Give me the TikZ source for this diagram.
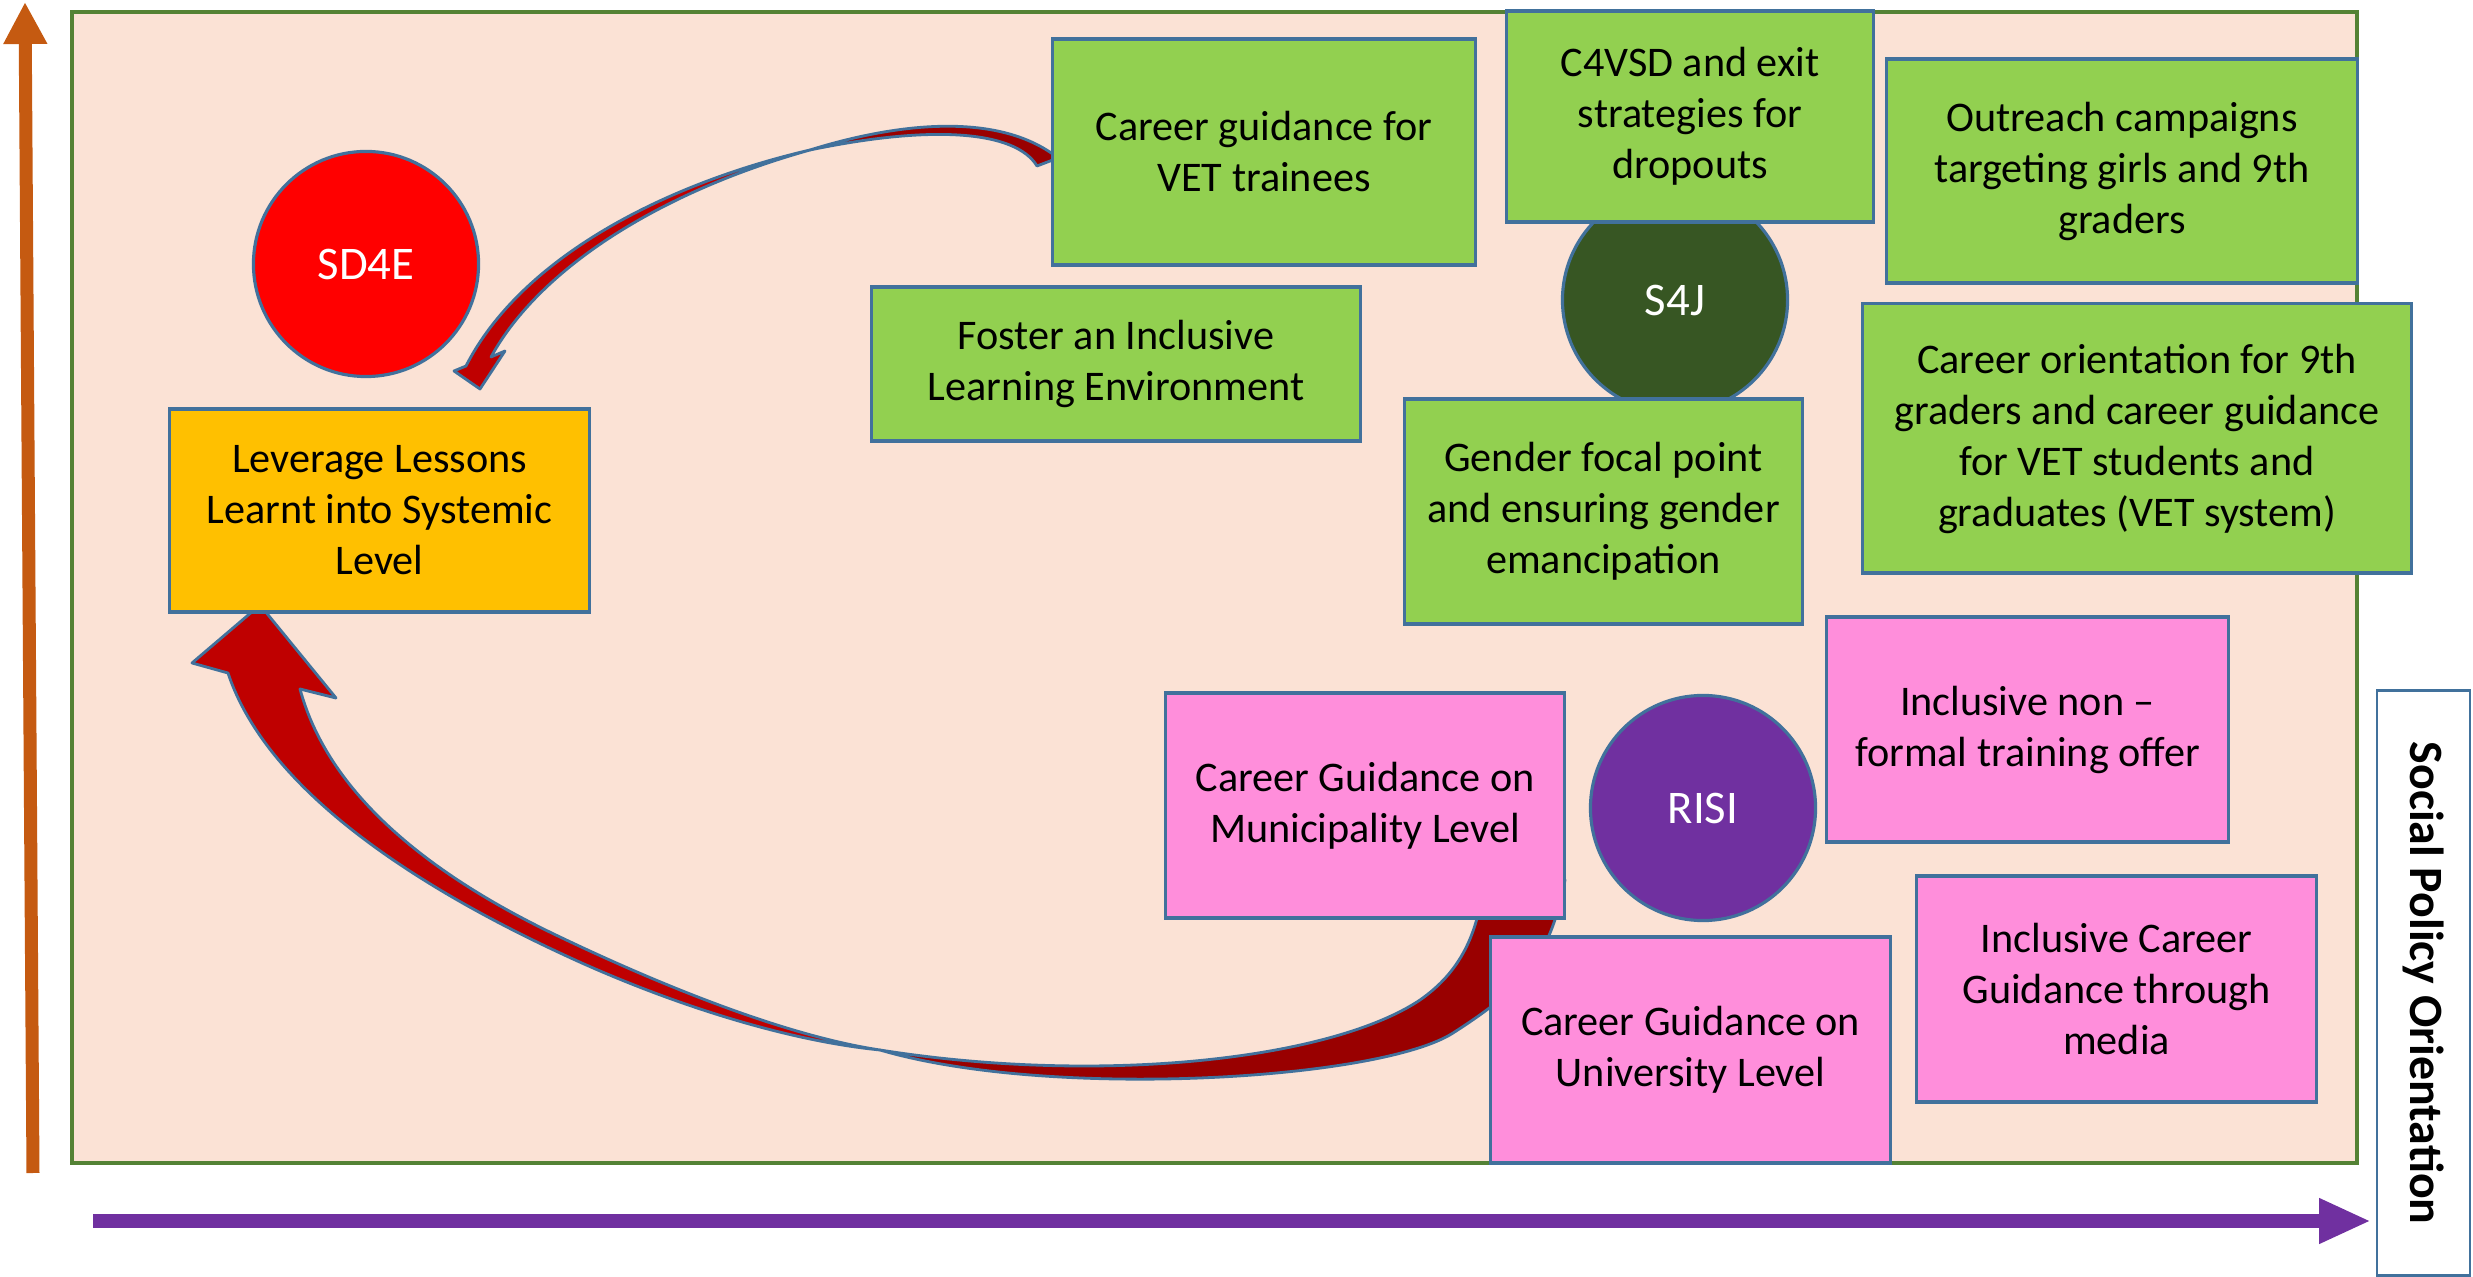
\documentclass[tikz,border=0pt]{standalone}
\usepackage{fontspec}
\setmainfont{Carlito}
\usetikzlibrary{arrows.meta}
\definecolor{panelfill}{HTML}{FBE2D5}
\definecolor{panelline}{HTML}{548235}
\definecolor{outline}{HTML}{41719C}
\definecolor{boxgreen}{HTML}{92D050}
\definecolor{boxpink}{HTML}{FF8EDB}
\definecolor{boxyellow}{HTML}{FFC000}
\definecolor{circred}{HTML}{FF0000}
\definecolor{circgreen}{HTML}{375623}
\definecolor{circpurple}{HTML}{7030A0}
\definecolor{arrowfront}{HTML}{BF0000}
\definecolor{arrowback}{HTML}{990000}
\definecolor{axisorange}{HTML}{C55A11}
\definecolor{axispurple}{HTML}{7030A0}
\begin{document}
\begin{tikzpicture}[x=0.01cm,y=-0.01cm,
  base/.style={draw=outline, line width=0.9pt, inner sep=0pt, align=center,
    font=\fontsize{12}{14.5}\selectfont, text=black},
  greenbox/.style={base, fill=boxgreen},
  pinkbox/.style={base, fill=boxpink},
  yellowbox/.style={base, fill=boxyellow},
  circ/.style={circle, draw=outline, line width=0.9pt, minimum size=2.25cm,
    inner sep=0pt, text=white, font=\fontsize{13.3}{16}\selectfont},
  front/.style={fill=arrowfront, draw=outline, line width=0.8pt, line join=round},
  back/.style={fill=arrowback, draw=outline, line width=0.8pt, line join=round},
  orangeaxis/.style={draw=axisorange, line width=0.13cm,
    -{Triangle[length=0.42cm,width=0.41cm]}},
  purpleaxis/.style={draw=axispurple, line width=0.14cm,
    -{Triangle[length=0.52cm,width=0.42cm]}},
  socbox/.style={draw=outline, line width=0.8pt, fill=white, inner sep=0pt,
    font=\bfseries\fontsize{13.6}{16}\selectfont}
]
\useasboundingbox (0,0) rectangle (2473,1277);

% panel
\path[fill=panelfill, draw=panelline, line width=0.9pt] (72,12) rectangle (2357,1163);

% axes
\coordinate (ya0) at (33,1173);
\coordinate (ya1) at (25,2);
\draw[orangeaxis] (ya0) -- (ya1);
\coordinate (xa0) at (93,1221);
\coordinate (xa1) at (2371,1221);
\draw[purpleaxis] (xa0) -- (xa1);

% axis label
\node[socbox, minimum width=5.85cm, minimum height=0.93cm, rotate=-90] (soc) at (2423.5,983) {Social Policy Orientation};

% big curved arrow: back part (from Municipality box)
\coordinate (bigP) at (880,1050);
\filldraw[back] (bigP) .. controls (1100,1085) and (1330,1060) .. (1420,1000)
  .. controls (1460,972) and (1478,935) .. (1484,880)
  -- (1565,880) .. controls (1550,960) and (1520,990) .. (1453,1033)
  .. controls (1380,1080) and (1050,1100) .. (bigP) -- cycle;
% big curved arrow: front part with head (towards Leverage box)
\filldraw[front] (260,605) -- (336,698) -- (300,689)
  .. controls (330,800) and (440,880) .. (560,937)
  .. controls (650,980) and (780,1035) .. (bigP)
  .. controls (780,1040) and (660,1000) .. (560,953)
  .. controls (440,897) and (270,800) .. (228,673)
  -- (192,663) -- cycle;

% small curved arrow: back part (from VET box)
\coordinate (smQ) at (810,150);
\filldraw[back] (smQ) .. controls (900,122) and (1000,112) .. (1058,158)
  -- (1037,166) .. controls (1015,130) and (930,125) .. (smQ) -- cycle;
% small curved arrow: front part with head
\filldraw[front] (480,389) -- (454,371) -- (466,366)
  .. controls (520,260) and (660,185) .. (smQ)
  .. controls (660,192) and (540,268) .. (491,357)
  -- (505,351) -- cycle;

% circles
\node[circ, fill=circred] (sd4e) at (366,264) {SD4E};
\node[circ, fill=circgreen] (s4j) at (1675,300) {S4J};
\node[circ, fill=circpurple] (risi) at (1703,808) {RISI};

% boxes
\node[yellowbox, minimum width=4.19cm, minimum height=2.03cm] (lev) at (379.5,510.5) {Leverage Lessons\\Learnt into Systemic\\Level};
\node[greenbox, minimum width=4.22cm, minimum height=2.26cm] (vet) at (1264,152) {Career guidance for\\VET trainees};
\node[greenbox, minimum width=4.88cm, minimum height=1.54cm] (foster) at (1116,364) {Foster an Inclusive\\Learning Environment};
\node[greenbox, minimum width=3.66cm, minimum height=2.11cm] (c4vsd) at (1690,116.5) {C4VSD and exit\\strategies for\\dropouts};
\node[greenbox, minimum width=4.70cm, minimum height=2.24cm] (outreach) at (2122,171) {Outreach campaigns\\targeting girls and 9th\\graders};
\node[greenbox, minimum width=5.48cm, minimum height=2.69cm] (orient) at (2137,438.5) {Career orientation for 9th\\graders and career guidance\\for VET students and\\graduates (VET system)};
\node[greenbox, minimum width=3.97cm, minimum height=2.25cm] (gender) at (1603.5,511.5) {Gender focal point\\and ensuring gender\\emancipation};
\node[pinkbox, minimum width=4.01cm, minimum height=2.25cm] (nonformal) at (2027.5,729.5) {Inclusive non –\\formal training offer};
\node[pinkbox, minimum width=3.98cm, minimum height=2.25cm] (munic) at (1365,805.5) {Career Guidance on\\Municipality Level};
\node[pinkbox, minimum width=3.99cm, minimum height=2.26cm] (univ) at (1690.5,1050) {Career Guidance on\\University Level};
\node[pinkbox, minimum width=3.99cm, minimum height=2.26cm] (media) at (2116.5,989) {Inclusive Career\\Guidance through\\media};
\end{tikzpicture}
\end{document}
